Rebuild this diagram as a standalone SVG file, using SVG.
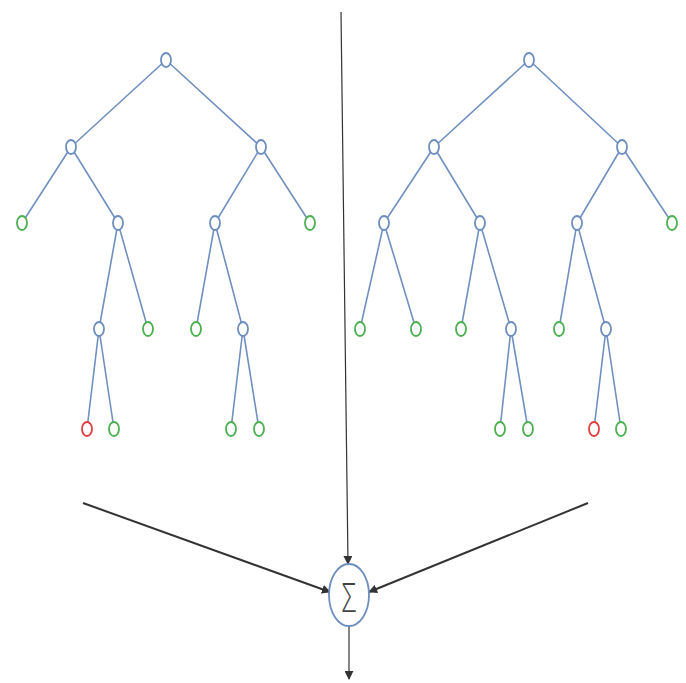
<svg xmlns="http://www.w3.org/2000/svg" width="686" height="683" viewBox="0 0 686 683">
<style>
.e{stroke:#7090c0;stroke-width:1.6;fill:none}
.n{fill:#fff;stroke-width:1.8}
.b{stroke:#6c8ebf}
.g{stroke:#4caf50}
.r{stroke:#e03c3c}
.c{stroke:#333;fill:none}
</style>
<defs>
<marker id="ah" viewBox="0 0 10 10" refX="9" refY="5" markerWidth="9" markerHeight="9" markerUnits="userSpaceOnUse" orient="auto">
<path d="M0,0 L10,5 L0,10 z" fill="#333"/>
</marker>
</defs>
<rect width="686" height="683" fill="#fff"/>
<g id="connectors">
<path class="e" d="M166,60 L71,147 M166,60 L261,147 M71,147 L22,223 M71,147 L118,223 M118,223 L99,329 M118,223 L148,329 M99,329 L87,429 M99,329 L114,429 M261,147 L215,223 M261,147 L310,223 M215,223 L196,329 M215,223 L243,329 M243,329 L231,429 M243,329 L259,429"/>
<path class="e" d="M529,60 L434,147 M529,60 L622,147 M434,147 L384,223 M434,147 L480,223 M384,223 L360,329 M384,223 L416,329 M480,223 L461,329 M480,223 L511,329 M511,329 L500,429 M511,329 L528,429 M622,147 L577,223 M622,147 L672,223 M577,223 L559,329 M577,223 L606,329 M606,329 L594,429 M606,329 L621,429"/>
<line class="c" x1="341" y1="12" x2="348" y2="564" stroke-width="1.2" marker-end="url(#ah)"/>
<line class="c" x1="83" y1="503" x2="330" y2="592" stroke-width="2" marker-end="url(#ah)"/>
<line class="c" x1="588" y1="503" x2="369" y2="592" stroke-width="2" marker-end="url(#ah)"/>
<line class="c" x1="349" y1="626" x2="349" y2="679" stroke-width="1.2" marker-end="url(#ah)"/>
</g>
<g id="tree-left">
<ellipse id="l0" class="n b" cx="166" cy="60" rx="5" ry="7"/>
<ellipse id="l1" class="n b" cx="71" cy="147" rx="5" ry="7"/>
<ellipse id="l2" class="n b" cx="261" cy="147" rx="5" ry="7"/>
<ellipse id="l3" class="n g" cx="22" cy="223" rx="5" ry="7"/>
<ellipse id="l4" class="n b" cx="118" cy="223" rx="5" ry="7"/>
<ellipse id="l5" class="n b" cx="215" cy="223" rx="5" ry="7"/>
<ellipse id="l6" class="n g" cx="310" cy="223" rx="5" ry="7"/>
<ellipse id="l7" class="n b" cx="99" cy="329" rx="5" ry="7"/>
<ellipse id="l8" class="n g" cx="148" cy="329" rx="5" ry="7"/>
<ellipse id="l9" class="n g" cx="196" cy="329" rx="5" ry="7"/>
<ellipse id="l10" class="n b" cx="243" cy="329" rx="5" ry="7"/>
<ellipse id="l11" class="n r" cx="87" cy="429" rx="5" ry="7"/>
<ellipse id="l12" class="n g" cx="114" cy="429" rx="5" ry="7"/>
<ellipse id="l13" class="n g" cx="231" cy="429" rx="5" ry="7"/>
<ellipse id="l14" class="n g" cx="259" cy="429" rx="5" ry="7"/>
</g>
<g id="tree-right">
<ellipse id="r0" class="n b" cx="529" cy="60" rx="5" ry="7"/>
<ellipse id="r1" class="n b" cx="434" cy="147" rx="5" ry="7"/>
<ellipse id="r2" class="n b" cx="622" cy="147" rx="5" ry="7"/>
<ellipse id="r3" class="n b" cx="384" cy="223" rx="5" ry="7"/>
<ellipse id="r4" class="n b" cx="480" cy="223" rx="5" ry="7"/>
<ellipse id="r5" class="n b" cx="577" cy="223" rx="5" ry="7"/>
<ellipse id="r6" class="n g" cx="672" cy="223" rx="5" ry="7"/>
<ellipse id="r7" class="n g" cx="360" cy="329" rx="5" ry="7"/>
<ellipse id="r8" class="n g" cx="416" cy="329" rx="5" ry="7"/>
<ellipse id="r9" class="n g" cx="461" cy="329" rx="5" ry="7"/>
<ellipse id="r10" class="n b" cx="511" cy="329" rx="5" ry="7"/>
<ellipse id="r11" class="n g" cx="559" cy="329" rx="5" ry="7"/>
<ellipse id="r12" class="n b" cx="606" cy="329" rx="5" ry="7"/>
<ellipse id="r13" class="n g" cx="500" cy="429" rx="5" ry="7"/>
<ellipse id="r14" class="n g" cx="528" cy="429" rx="5" ry="7"/>
<ellipse id="r15" class="n r" cx="594" cy="429" rx="5" ry="7"/>
<ellipse id="r16" class="n g" cx="621" cy="429" rx="5" ry="7"/>
</g>
<g id="sum">
<ellipse cx="349" cy="595" rx="20" ry="31" fill="#fff" stroke="#6c8ebf" stroke-width="1.8"/>
<text transform="translate(349,612) scale(0.65,1)" x="0" y="0" text-anchor="middle" font-family="Open Sans, DejaVu Sans, sans-serif" font-weight="300" font-size="40" fill="#444">Σ</text>
</g>
</svg>
